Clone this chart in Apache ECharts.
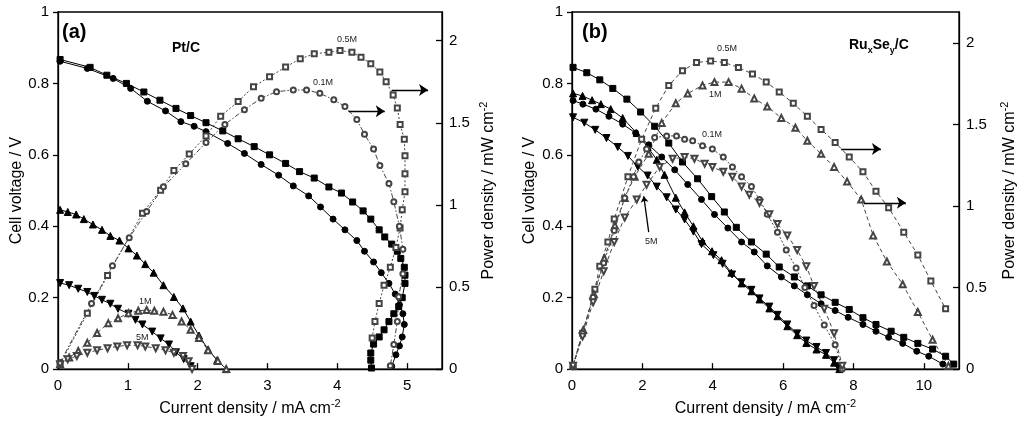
<!DOCTYPE html>
<html><head><meta charset="utf-8">
<script src="https://cdn.jsdelivr.net/npm/echarts@6/dist/echarts.min.js"></script>
<style>html,body{margin:0;padding:0;background:#fff}#c{width:1024px;height:422px}</style>
</head><body><div id="c"></div>
<script>
// ---------- Panel (a) Pt/C ----------
const aV05 = [[0.03,0.867],[0.46,0.845],[0.70,0.823],[0.98,0.80],[1.23,0.776],[1.46,0.753],[1.69,0.73],[1.90,0.71],[2.12,0.69],[2.36,0.667],[2.58,0.645],[2.81,0.623],[3.03,0.60],[3.26,0.576],[3.46,0.553],[3.67,0.535],[3.88,0.51],[4.06,0.493],[4.22,0.468],[4.37,0.443],[4.48,0.42],[4.60,0.39],[4.68,0.37],[4.78,0.35],[4.86,0.33],[4.91,0.31],[4.96,0.285],[4.97,0.263],[4.97,0.24],[4.93,0.20],[4.88,0.175],[4.81,0.155],[4.74,0.133],[4.67,0.11],[4.60,0.09],[4.52,0.07],[4.48,0.045],[4.48,0.025],[4.49,0.003]];
const aV01 = [[0.03,0.862],[0.42,0.842],[0.79,0.814],[1.04,0.786],[1.28,0.75],[1.54,0.723],[1.76,0.693],[1.95,0.68],[2.12,0.665],[2.43,0.632],[2.67,0.604],[2.91,0.573],[3.16,0.543],[3.37,0.513],[3.59,0.485],[3.76,0.454],[3.94,0.42],[4.11,0.39],[4.28,0.36],[4.39,0.33],[4.52,0.30],[4.63,0.27],[4.74,0.24],[4.83,0.21],[4.89,0.18],[4.94,0.155],[4.96,0.125],[4.93,0.09],[4.89,0.065],[4.84,0.04],[4.78,0.008]];
const aV1M = [[0.03,0.446],[0.14,0.44],[0.26,0.433],[0.37,0.42],[0.50,0.405],[0.63,0.39],[0.75,0.373],[0.88,0.36],[1.01,0.338],[1.13,0.318],[1.25,0.294],[1.37,0.27],[1.51,0.235],[1.66,0.202],[1.79,0.17],[1.90,0.133],[2.02,0.094],[2.15,0.055],[2.28,0.025],[2.41,0.0]];
const aV5M = [[0.03,0.241],[0.16,0.235],[0.29,0.225],[0.42,0.216],[0.52,0.205],[0.63,0.194],[0.75,0.183],[0.86,0.169],[1.01,0.155],[1.11,0.138],[1.21,0.125],[1.35,0.105],[1.47,0.086],[1.59,0.069],[1.69,0.047],[1.80,0.028],[1.90,0.008]];
const aP05 = [[0.03,0.03],[0.42,0.34],[0.71,0.57],[1.21,0.95],[1.47,1.09],[1.66,1.21],[1.88,1.31],[2.12,1.42],[2.33,1.54],[2.58,1.63],[2.80,1.72],[3.03,1.78],[3.26,1.84],[3.47,1.89],[3.67,1.92],[3.88,1.93],[4.04,1.94],[4.21,1.93],[4.34,1.90],[4.48,1.86],[4.61,1.81],[4.70,1.75],[4.80,1.67],[4.86,1.59],[4.90,1.49],[4.96,1.40],[4.97,1.30],[4.97,1.19],[4.97,1.08],[4.93,0.97],[4.90,0.86],[4.84,0.74],[4.76,0.62],[4.67,0.51],[4.60,0.40],[4.54,0.29],[4.50,0.19]];
const aP01 = [[0.03,0.04],[0.48,0.40],[0.78,0.63],[1.02,0.80],[1.27,0.96],[1.51,1.11],[1.83,1.25],[2.12,1.38],[2.39,1.49],[2.67,1.58],[2.91,1.65],[3.13,1.69],[3.37,1.70],[3.56,1.70],[3.75,1.68],[3.95,1.64],[4.11,1.60],[4.28,1.52],[4.39,1.43],[4.52,1.34],[4.61,1.24],[4.74,1.13],[4.81,1.02],[4.89,0.87],[4.94,0.73],[4.94,0.58],[4.88,0.44],[4.86,0.29],[4.81,0.15],[4.76,0.02]];
const aP1M = [[0.03,0.03],[0.16,0.07],[0.29,0.11],[0.42,0.16],[0.56,0.22],[0.72,0.28],[0.86,0.31],[1.01,0.34],[1.15,0.355],[1.27,0.36],[1.38,0.355],[1.51,0.35],[1.64,0.33],[1.77,0.29],[1.90,0.24],[2.02,0.19],[2.15,0.115],[2.29,0.05],[2.41,0.0]];
const aP5M = [[0.03,0.03],[0.14,0.06],[0.27,0.08],[0.42,0.10],[0.56,0.115],[0.71,0.127],[0.85,0.138],[0.99,0.145],[1.14,0.145],[1.25,0.138],[1.40,0.127],[1.54,0.115],[1.66,0.10],[1.79,0.08],[1.87,0.048],[1.92,0.0]];
// ---------- Panel (b) RuxSey/C ----------
const bV05 = [[0.03,0.845],[0.42,0.83],[0.79,0.81],[1.16,0.786],[1.56,0.756],[1.95,0.72],[2.35,0.68],[2.75,0.633],[3.14,0.58],[3.57,0.533],[3.97,0.483],[4.33,0.44],[4.67,0.397],[5.10,0.356],[5.52,0.322],[5.89,0.286],[6.32,0.258],[6.69,0.233],[7.08,0.208],[7.48,0.187],[7.88,0.167],[8.27,0.144],[8.64,0.125],[9.07,0.106],[9.43,0.089],[9.83,0.072],[10.25,0.056],[10.62,0.036],[10.85,0.014]];
const bV01 = [[0.03,0.752],[0.31,0.742],[0.68,0.728],[1.05,0.708],[1.44,0.686],[1.81,0.661],[2.18,0.628],[2.55,0.594],[2.92,0.558],[3.29,0.517],[3.68,0.475],[4.05,0.433],[4.43,0.395],[4.82,0.356],[5.18,0.328],[5.55,0.289],[5.95,0.258],[6.32,0.233],[6.69,0.208],[7.08,0.183],[7.48,0.164],[7.85,0.145],[8.27,0.125],[8.64,0.106],[9.0,0.089],[9.4,0.072],[9.8,0.05],[10.14,0.036],[10.54,0.014]];
const bV1M = [[0.03,0.772],[0.30,0.765],[0.57,0.753],[0.82,0.742],[1.10,0.728],[1.44,0.703],[1.84,0.661],[2.15,0.622],[2.41,0.586],[2.63,0.544],[2.95,0.48],[3.20,0.439],[3.45,0.40],[3.71,0.358],[3.98,0.33],[4.25,0.305],[4.53,0.27],[4.82,0.24],[5.10,0.218],[5.33,0.195],[5.61,0.17],[5.84,0.148],[6.12,0.12],[6.40,0.095],[6.66,0.073],[6.95,0.055],[7.22,0.04],[7.45,0.018],[7.6,0.0]];
const bV5M = [[0.03,0.705],[0.35,0.69],[0.66,0.67],[0.98,0.647],[1.30,0.622],[1.59,0.597],[1.87,0.567],[2.15,0.542],[2.41,0.511],[2.69,0.481],[2.95,0.447],[3.20,0.419],[3.45,0.385],[3.68,0.35],[4.02,0.319],[4.28,0.295],[4.55,0.265],[4.82,0.243],[5.10,0.222],[5.33,0.198],[5.61,0.175],[5.84,0.152],[6.12,0.125],[6.40,0.1],[6.66,0.08],[6.95,0.062],[7.22,0.045],[7.45,0.025],[7.55,0.008]];
const bP05 = [[0.03,0.02],[0.30,0.22],[0.65,0.49],[0.79,0.63],[1.02,0.78],[1.20,0.92],[1.59,1.18],[1.98,1.41],[2.38,1.60],[2.75,1.74],[3.14,1.83],[3.54,1.88],[3.94,1.89],[4.33,1.88],[4.73,1.85],[5.13,1.81],[5.52,1.76],[5.89,1.70],[6.29,1.63],[6.69,1.55],[7.08,1.47],[7.48,1.39],[7.88,1.30],[8.27,1.21],[8.64,1.09],[9.0,0.99],[9.43,0.84],[9.83,0.70],[10.2,0.54],[10.62,0.37]];
const bP1M = [[0.03,0.02],[0.32,0.24],[0.62,0.46],[0.92,0.68],[1.22,0.88],[1.50,1.05],[1.78,1.18],[2.18,1.32],[2.55,1.51],[2.95,1.63],[3.29,1.69],[3.71,1.74],[4.05,1.76],[4.45,1.76],[4.82,1.72],[5.18,1.66],[5.55,1.61],[5.95,1.54],[6.35,1.48],[6.69,1.40],[7.08,1.32],[7.45,1.24],[7.82,1.15],[8.22,1.04],[8.56,0.82],[8.95,0.66],[9.40,0.52],[9.83,0.35],[10.25,0.18],[10.7,0.02]];
const bP01 = [[0.03,0.02],[0.30,0.22],[0.60,0.44],[0.90,0.65],[1.20,0.85],[1.50,1.05],[1.75,1.18],[1.90,1.27],[2.12,1.35],[2.35,1.42],[2.69,1.43],[2.97,1.43],[3.20,1.41],[3.43,1.40],[3.71,1.37],[3.99,1.35],[4.30,1.30],[4.56,1.24],[4.82,1.18],[5.10,1.12],[5.33,1.04],[5.55,0.95],[5.84,0.84],[6.09,0.73],[6.37,0.62],[6.62,0.50],[6.88,0.39],[7.17,0.27],[7.48,0.15],[7.68,0.0]];
const bP5M = [[0.03,0.02],[0.30,0.20],[0.60,0.41],[0.90,0.60],[1.20,0.78],[1.50,0.93],[1.84,1.04],[2.12,1.13],[2.49,1.24],[2.86,1.29],[3.20,1.30],[3.48,1.29],[3.77,1.26],[3.99,1.24],[4.30,1.21],[4.56,1.18],[4.82,1.12],[5.04,1.07],[5.33,1.02],[5.61,0.95],[5.84,0.89],[6.12,0.82],[6.40,0.73],[6.66,0.63],[6.88,0.51],[7.17,0.37],[7.45,0.22],[7.68,0.02]];
// annotation arrows (data coordinates, right axis): [start, end]
const arrowA05 = [[4.78,1.70],[5.30,1.70]];
const arrowA01 = [[4.16,1.57],[4.68,1.57]];
const arrowB05 = [[7.65,1.35],[8.78,1.35]];
const arrowB1M = [[8.30,1.02],[9.49,1.02]];
const arrowB5M = [[2.18,0.84],[2.04,1.06]];
// axis tick settings
const xTicksA = {min:0, max:5.5, interval:1};
const xTicksB = {min:0, max:11, interval:2};
const yTicksV = {min:0, max:1, interval:0.2};
const yTicksPA = {min:0, max:2.175, interval:0.5};
const yTicksPB = {min:0, max:2.19, interval:0.5};

const FONT = 'Liberation Sans';
const chart = echarts.init(document.getElementById('c'));
const axisCommon = {
  type:'value',
  axisLine:{show:true, onZero:false, lineStyle:{color:'#000', width:1.3}},
  axisTick:{show:true, inside:true, length:6, lineStyle:{color:'#000', width:1.3}},
  splitLine:{show:false},
  axisLabel:{color:'#000', fontSize:15, fontFamily:FONT, margin:9, showMaxLabel:true}
};
const richName = {n:{fontSize:16, fontFamily:FONT, color:'#000', lineHeight:22}, s:{fontSize:11, fontFamily:FONT, color:'#000', verticalAlign:'top', lineHeight:12}};
function xAx(grid, t){
  return Object.assign({}, axisCommon, t, {gridIndex:grid,
    axisLabel:Object.assign({}, axisCommon.axisLabel, {showMaxLabel:false}),
    name:'{n|Current density / mA cm}{s|-2}', nameLocation:'middle', nameGap:24,
    nameTextStyle:{rich:richName}
  });
}
function yAxV(grid, gap){
  return Object.assign({}, axisCommon, yTicksV, {gridIndex:grid, position:'left',
    axisTick:{show:true, inside:false, length:5, lineStyle:{color:'#000', width:1.3}},
    name:'Cell voltage / V', nameLocation:'middle', nameGap:gap,
    nameTextStyle:{fontSize:16, fontFamily:FONT, color:'#000'}});
}
function yAxP(grid, t, gap){
  return Object.assign({}, axisCommon, t, {gridIndex:grid, position:'right',
    axisLabel:Object.assign({}, axisCommon.axisLabel, {showMaxLabel:false, margin:7}),
    name:'{n|Power density / mW cm}{s|-2}', nameLocation:'middle', nameGap:gap,
    nameTextStyle:{rich:richName}});
}
function ser(data, xi, yi, sym, filled, dash, rot){
  const c = filled ? '#000' : '#444';
  return {type:'line', data:data, xAxisIndex:xi, yAxisIndex:yi,
    symbol: filled ? sym : 'empty' + sym.charAt(0).toUpperCase() + sym.slice(1),
    symbolSize: filled ? (sym==='triangle'?7:6) : (sym==='triangle'?6:5), symbolRotate: rot||0,
    showAllSymbol:true, silent:true,
    lineStyle:{color:c, width:1, type: dash||'solid'},
    itemStyle:{color:c, borderColor:c, borderWidth: filled?1:0.9}
  };
}
// arrow = a thin 'lines' series (shaft) with an arrow symbol at the end
function arrowSeries(xi, yi, list, size){
  return {type:'lines', coordinateSystem:'cartesian2d', xAxisIndex:xi, yAxisIndex:yi, silent:true, z:5,
    symbol:['none','arrow'], symbolSize:size,
    lineStyle:{color:'#000', width:1.3, type:'solid', opacity:1},
    data:list.map(function(p){ return {coords:p}; })};
}
const dotted=[2,2], dashed=[4,3], dashdot=[5,2,1.5,2];
const series = [
  ser(aV05,0,0,'rect',true), ser(aV01,0,0,'circle',true), ser(aV1M,0,0,'triangle',true), ser(aV5M,0,0,'triangle',true,null,180),
  ser(aP05,0,1,'rect',false,dotted), ser(aP01,0,1,'circle',false,dashdot),
  ser(aP1M,0,1,'triangle',false,dashed), ser(aP5M,0,1,'triangle',false,dashed,180),
  ser(bV05,1,2,'rect',true), ser(bV01,1,2,'circle',true), ser(bV1M,1,2,'triangle',true), ser(bV5M,1,2,'triangle',true,null,180),
  ser(bP05,1,3,'rect',false,dashed), ser(bP1M,1,3,'triangle',false,dashed),
  ser(bP01,1,3,'circle',false,dotted), ser(bP5M,1,3,'triangle',false,dashed,180),
  arrowSeries(0,1,[arrowA05, arrowA01], 9),
  arrowSeries(1,3,[arrowB05, arrowB1M], 9),
  arrowSeries(1,3,[arrowB5M], 6)
];
function txt(left, top, text, font, fill){
  return {type:'text', left:left, top:top, z:100, style:{text:text, font:font, fill:fill||'#000'}};
}
const small = '9px ' + FONT;
chart.setOption({
  animation:false,
  backgroundColor:'#fff',
  grid:[
    {left:58, top:12, width:384, height:361, show:true, borderColor:'#000', borderWidth:1.3},
    {left:572, top:12, width:387, height:359, show:true, borderColor:'#000', borderWidth:1.3}
  ],
  xAxis:[xAx(0, xTicksA), xAx(1, xTicksB)],
  yAxis:[yAxV(0, 33), yAxP(0, yTicksPA, 36), yAxV(1, 34), yAxP(1, yTicksPB, 40)],
  series:series,
  graphic:[
    txt(62, 22, '(a)', 'bold 20px ' + FONT),
    txt(172, 41, 'Pt/C', 'bold 14px ' + FONT),
    txt(337, 35, '0.5M', small, '#222'),
    txt(313, 78, '0.1M', small, '#222'),
    txt(139, 297, '1M', small, '#222'),
    txt(136, 333, '5M', small, '#222'),
    txt(582, 22, '(b)', 'bold 20px ' + FONT),
    {type:'text', left:849, top:38, z:100, style:{text:'{b|Ru}{s|x}{b|Se}{s|y}{b|/C}',
      rich:{b:{font:'bold 14px ' + FONT, fill:'#000', lineHeight:20}, s:{font:'bold 9px ' + FONT, fill:'#000', verticalAlign:'bottom', lineHeight:10}}}},
    txt(717, 44, '0.5M', small, '#222'),
    txt(709, 90, '1M', small, '#222'),
    txt(702, 130, '0.1M', small, '#222'),
    txt(645, 237, '5M', small, '#222')
  ]
});
</script>
</body></html>
